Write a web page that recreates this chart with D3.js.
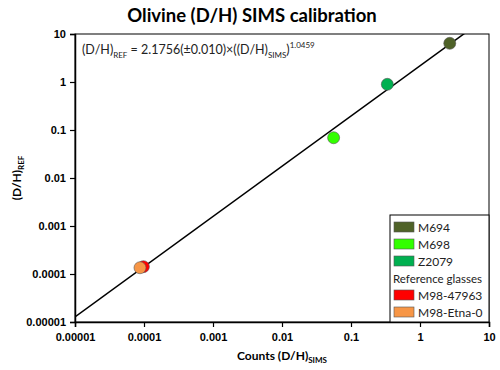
<!DOCTYPE html>
<html>
<head>
<meta charset="utf-8">
<script src="https://cdn.jsdelivr.net/npm/d3@7"></script>
<style>
  body { margin: 0; background: #fff; }
  svg { font-family: Lato, 'Open Sans', sans-serif; }
  .tick text { font-weight: bold; font-size: 11px; fill: #000; }
</style>
</head>
<body>
<svg id="chart" width="500" height="370"></svg>
<script>
'use strict'

// samples, measured SIMS ratio vs reference ratio
const samples = ['M694', 'M698', 'Z2079', 'M98-47963', 'M98-Etna-0']
const simsRatio = [2.7, 0.056, 0.336, 0.000098, 0.0000875]
const refRatio = [6.4, 0.069, 0.895, 0.000142, 0.000135]
const sampleColors = ['#4f6228', '#33ff00', '#00b050', '#ff0000', '#f79646']

// calibration fit: y = a * x^b
const fitA = 2.1756
const fitB = 1.0459

const tickValues = [0.00001, 0.0001, 0.001, 0.01, 0.1, 1, 10]
const tickLabels = ['0.00001', '0.0001', '0.001', '0.01', '0.1', '1', '10']

const svg = d3.select('#chart'),
  margin = { top: 34, right: 11, bottom: 48, left: 75 },
  width = +svg.attr('width') - margin.left - margin.right,
  height = +svg.attr('height') - margin.top - margin.bottom

const x = d3.scaleLog().domain([0.00001, 10]).range([0, width])
const y = d3.scaleLog().domain([0.00001, 10]).range([height, 0])

const g = svg.append('g')
  .attr('transform', 'translate(' + margin.left + ',' + margin.top + ')')

svg.append('defs').append('clipPath').attr('id', 'plotclip')
  .append('rect').attr('width', width).attr('height', height)

// plot frame
g.append('rect')
  .attr('width', width).attr('height', height)
  .attr('fill', 'none').attr('stroke', '#000').attr('stroke-width', 1)

const xAxis = g.append('g')
  .attr('transform', 'translate(0,' + height + ')')
  .call(d3.axisBottom(x).tickValues(tickValues).tickSizeOuter(0).tickSize(5).tickPadding(6)
    .tickFormat((d, i) => tickLabels[i]))
const yAxis = g.append('g')
  .call(d3.axisLeft(y).tickValues(tickValues).tickSizeOuter(0).tickSize(5).tickPadding(4)
    .tickFormat((d, i) => tickLabels[i]))
xAxis.select('.domain').attr('stroke-width', 1.5)
yAxis.select('.domain').attr('stroke-width', 1.5)
svg.selectAll('.tick line').attr('stroke-width', 1.2)

// fit line
const lineData = [0.00001, 10].map(v => [v, fitA * Math.pow(v, fitB)])
g.append('path')
  .datum(lineData)
  .attr('clip-path', 'url(#plotclip)')
  .attr('fill', 'none')
  .attr('stroke', '#000')
  .attr('stroke-width', 1.5)
  .attr('d', d3.line().x(d => x(d[0])).y(d => y(d[1])))

// points
g.selectAll('.pt')
  .data(samples)
  .enter().append('circle')
  .attr('class', 'pt')
  .attr('cx', (d, i) => x(simsRatio[i]))
  .attr('cy', (d, i) => y(refRatio[i]))
  .attr('r', 6)
  .attr('fill', (d, i) => sampleColors[i])
  .attr('stroke', '#555')
  .attr('stroke-width', 0.6)

// equation
const eq = g.append('text')
  .attr('x', 7).attr('y', 20)
  .attr('font-size', 12.5).attr('fill', '#222')
eq.append('tspan').text('(D/H)')
eq.append('tspan').attr('font-size', 8).attr('dy', 4).text('REF')
eq.append('tspan').attr('dy', -4).text(' = 2.1756(±0.010)×((D/H)')
eq.append('tspan').attr('font-size', 8).attr('dy', 4).text('SIMS')
eq.append('tspan').attr('dy', -4).text(')')
eq.append('tspan').attr('font-size', 8).attr('dy', -6).text('1.0459')

// legend
const legend = g.append('g').attr('transform', 'translate(' + (width - 99) + ',' + (height - 107) + ')')
legend.append('rect')
  .attr('width', 99).attr('height', 107)
  .attr('fill', '#fff').attr('stroke', '#000').attr('stroke-width', 1)

const legendRows = [
  { label: 'M694', idx: 0, y: 7 },
  { label: 'M698', idx: 1, y: 24 },
  { label: 'Z2079', idx: 2, y: 41 },
  { label: 'Reference glasses', idx: -1, y: 58 },
  { label: 'M98-47963', idx: 3, y: 75 },
  { label: 'M98-Etna-0', idx: 4, y: 92 }
]
legendRows.forEach(r => {
  if (r.idx >= 0) {
    legend.append('rect')
      .attr('x', 4).attr('y', r.y)
      .attr('width', 20).attr('height', 10)
      .attr('fill', sampleColors[r.idx])
      .attr('stroke', '#555').attr('stroke-width', 0.6)
  }
  legend.append('text')
    .attr('x', r.idx >= 0 ? 28 : 3)
    .attr('y', r.y + 9.5)
    .attr('font-size', r.idx >= 0 ? 12 : 11.5)
    .attr('fill', '#222')
    .text(r.label)
})

// title
svg.append('text')
  .attr('x', 252).attr('y', 22)
  .attr('text-anchor', 'middle')
  .attr('font-size', 18.5).attr('font-weight', 'bold')
  .text('Olivine (D/H) SIMS calibration')

// x label
const xl = svg.append('text')
  .attr('x', margin.left + width / 2).attr('y', 360)
  .attr('text-anchor', 'middle')
  .attr('font-size', 12).attr('font-weight', 'bold')
xl.append('tspan').text('Counts (D/H)')
xl.append('tspan').attr('font-size', 8).attr('dy', 3).text('SIMS')

// y label
const yl = svg.append('text')
  .attr('text-anchor', 'middle')
  .attr('transform', 'translate(21,' + (margin.top + height / 2) + ')rotate(-90)')
  .attr('font-size', 12).attr('font-weight', 'bold')
yl.append('tspan').text('(D/H)')
yl.append('tspan').attr('font-size', 8).attr('dy', 3).text('REF')
</script>
</body>
</html>
